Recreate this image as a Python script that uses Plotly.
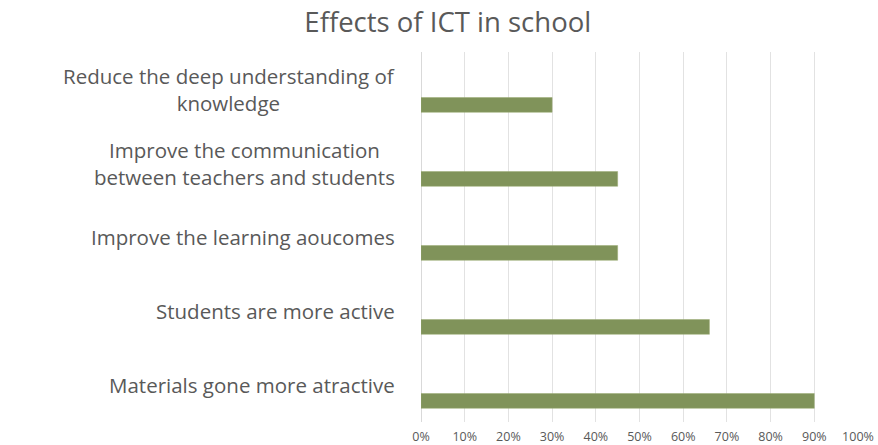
import plotly.graph_objects as go

# Data (bottom to top, as plotted)
effects = [
    "Materials gone more atractive",
    "Students are more active",
    "Improve the learning aoucomes",
    "Improve the communication<br>between teachers and students",
    "Reduce the deep understanding of<br>knowledge",
]
shares = [0.90, 0.66, 0.45, 0.45, 0.30]
x_ticks = [0, 0.1, 0.2, 0.3, 0.4, 0.5, 0.6, 0.7, 0.8, 0.9, 1.0]

text_color = "#595959"
bar_color = "#80935a"
font_family = "Open Sans, DejaVu Sans, sans-serif"

fig = go.Figure(
    go.Bar(
        x=shares,
        y=effects,
        orientation="h",
        width=0.2,
        offset=-0.315,
        marker=dict(color=bar_color, line=dict(color="#9aab74", width=0.5)),
        hoverinfo="x+y",
    )
)

# category labels, centred lines, placed left of the plot area
for name in effects:
    fig.add_annotation(
        x=0,
        xref="paper",
        y=name,
        yref="y",
        text=name,
        showarrow=False,
        xanchor="right",
        yanchor="middle",
        align="center",
        xshift=-24,
        font=dict(size=20.5, color=text_color, family=font_family),
    )

fig.update_layout(
    width=878,
    height=445,
    margin=dict(l=421, r=20, t=52, b=23),
    paper_bgcolor="white",
    plot_bgcolor="white",
    showlegend=False,
    font=dict(family=font_family, color=text_color),
    title=dict(
        text="Effects of ICT in school",
        x=0.51,
        xanchor="center",
        y=0.95,
        yanchor="middle",
        font=dict(size=27.5, color=text_color, family=font_family),
    ),
    xaxis=dict(
        range=[0, 1],
        tickvals=x_ticks,
        tickformat=".0%",
        showgrid=True,
        gridcolor="#e2e2e2",
        gridwidth=1,
        zeroline=True,
        zerolinecolor="#d9d9d9",
        zerolinewidth=1,
        showline=False,
        ticks="",
        ticklabelstandoff=5,
        tickfont=dict(size=12.5, color=text_color),
        automargin=False,
    ),
    yaxis=dict(
        categoryorder="array",
        categoryarray=effects,
        range=[-0.5, 4.5],
        showticklabels=False,
        showgrid=False,
        zeroline=False,
        ticks="",
        automargin=False,
    ),
)

# drop the default page margin so the figure sits at the window's corner
fig.write_html(
    "out.html",
    config={"displayModeBar": False},
    post_script="document.body.style.margin='0';",
)
